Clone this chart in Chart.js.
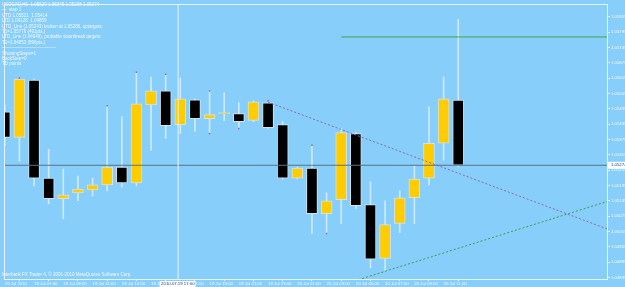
<!DOCTYPE html>
<html>
<head>
<meta charset="utf-8">
<script src="https://cdn.jsdelivr.net/npm/chart.js@4.4.1/dist/chart.umd.min.js"></script>
<style>
  html, body { margin: 0; padding: 0; background: #87cefa; }
</style>
</head>
<body>
<canvas id="myChart" width="625" height="287"></canvas>
<script>
// USDCAD H1 - one bar per hour, bar 0 = 19 Jul 2010 05:00
const opens  = [1.05483,1.05383,1.05607,1.05224,1.05143,1.05166,1.05178,1.05197,1.05267,1.05205,
                1.05510,1.05565,1.05433,1.05530,1.05456,1.05476,1.05476,1.05449,1.05518,1.05433,
                1.05224,1.05263,1.05085,1.05139,1.05398,1.05120,1.04910,1.05046,1.05147,1.05224,
                1.05360,1.05529];
const highs  = [1.05510,1.05615,1.05611,1.05336,1.05259,1.05232,1.05224,1.05507,1.05464,1.05638,
                1.05619,1.05630,1.05615,1.05534,1.05565,1.05557,1.05518,1.05526,1.05526,1.05445,
                1.05267,1.05352,1.05166,1.05418,1.05402,1.05209,1.05135,1.05174,1.05274,1.05503,
                1.05619,1.05845];
const lows   = [1.05352,1.05290,1.05193,1.05123,1.05065,1.05135,1.05154,1.05174,1.05189,1.05193,
                1.05332,1.05379,1.05398,1.05406,1.05398,1.05449,1.05418,1.05445,1.05418,1.05220,
                1.05220,1.05007,1.05007,1.05046,1.05104,1.04872,1.04864,1.05011,1.05046,1.05197,
                1.05294,1.05268];
const closes = [1.05383,1.05611,1.05224,1.05143,1.05158,1.05181,1.05197,1.05267,1.05205,1.05514,
                1.05565,1.05429,1.05534,1.05456,1.05472,1.05480,1.05445,1.05522,1.05421,1.05224,
                1.05263,1.05085,1.05135,1.05402,1.05116,1.04907,1.05042,1.05147,1.05220,1.05360,
                1.05534,1.05274];

// time axis labels, every 2 bars
const tickBars = [0,2,4,6,8,10,12,14,16,18,20,22,24,26,28,30];
const tickLabels = ['19 Jul 2010','19 Jul 07:00','19 Jul 09:00','19 Jul 11:00','19 Jul 13:00','19 Jul 15:00',
                    '19 Jul 17:00','19 Jul 19:00','19 Jul 21:00','19 Jul 23:00','20 Jul 01:00','20 Jul 03:00',
                    '20 Jul 05:00','20 Jul 07:00','20 Jul 09:00','20 Jul 11:00'];

// price axis
const priceTicks = [1.04835,1.04895,1.04955,1.05015,1.05075,1.05135,1.05195,1.05255,1.05315,
                    1.05375,1.05435,1.05495,1.05555,1.05615,1.05675,1.05735,1.05795,1.05855];
const yMin = 1.04829, yMax = 1.05905;
const xMin = -0.054, xMax = 41.17;

// indicator objects
const bid = 1.05274;
const target1 = 1.05776, target1From = 23;
const utdBars = [18, 23], utdPrices = [1.05521, 1.05414];
const ltdBars = [26, 31], ltdPrices = [1.04859, 1.04949];
const tdBars   = [1, 7, 9, 11, 14, 14, 16, 18, 21, 22];
const tdPrices = [1.05615,1.05507,1.05638,1.05630,1.05565,1.05398,1.05418,1.05526,1.05352,1.05007];
const cursorBar = 11.85, cursorLabel = '2010.07.19 17:00';

const infoLines = ['USDCAD,H1  1.05529 1.05845 1.05268 1.05274', '\u2014  step 1', 'UTD 1.05521  1.05414',
                   'LTD 1.04128  1.04859', 'UTD_Line (1.05243) broken at 1.05286, uptargets:',
                   'T1=1.05776 (491pts.)', 'LTD_Line (1.04949), probable downbreak targets:',
                   'T1=1.04053 (896pts.)', '\u2014\u2014\u2014\u2014\u2014\u2014\u2014\u2014\u2014\u2014\u2014\u2014',
                   'ShowingSteps=1', 'BackStep=0', 'TD points'];

const bg = '#87cefa';
const fg = '#f2f9fe';
const fontFam = "'Liberation Sans', Arial, sans-serif";

// extend a trend line (ray) through two anchor points
function ray(bars, prices, from, to) {
  let k = (prices[1] - prices[0]) / (bars[1] - bars[0]);
  return [{x: from, y: prices[0] + (from - bars[0]) * k}, {x: to, y: prices[0] + (to - bars[0]) * k}];
}

const bodies = opens.map((o, i) => ({x: i, y: [o, closes[i]]}));
const wicks = highs.map((h, i) => ({x: i, y: [lows[i], h]}));
const bodyColors = opens.map((o, i) => closes[i] >= o ? '#ffcc00' : '#000000');

const decor = {
  id: 'decor',
  beforeDraw(chart) {
    const c = chart.ctx;
    c.save();
    c.fillStyle = bg;
    c.fillRect(0, 0, chart.width, chart.height);
    c.restore();
  },
  afterDraw(chart) {
    const c = chart.ctx, a = chart.chartArea;
    const xs = chart.scales.x, ys = chart.scales.y;
    c.save();
    c.strokeStyle = '#e6f3fb';
    c.lineWidth = 1;
    c.strokeRect(Math.round(a.left) + 0.5, Math.round(a.top) + 0.5, Math.round(a.right - a.left), Math.round(a.bottom - a.top));

    // info text block
    c.fillStyle = fg;
    c.font = '4.5px ' + fontFam;
    c.textBaseline = 'middle';
    c.textAlign = 'left';
    infoLines.forEach((t, i) => c.fillText(t, 2, 4.7 + i * 5.4));
    c.fillText('Interbank FX Trader 4, \u00a9 2001-2010 MetaQuotes Software Corp.', 2, 275);

    // bid label on price axis
    let by = ys.getPixelForValue(bid);
    c.fillStyle = '#ffffff';
    c.fillRect(a.right + 1, by - 3.5, 20, 7);
    c.fillStyle = '#1c3c78';
    c.font = '4.3px ' + fontFam;
    c.fillText(bid.toFixed(5), a.right + 4, by);

    // cursor time label
    let cx = xs.getPixelForValue(cursorBar);
    c.fillStyle = '#ffffff';
    c.fillRect(cx - 18.5, a.bottom + 2, 36, 7);
    c.fillStyle = '#1c3c78';
    c.textBaseline = 'top';
    c.fillText(cursorLabel, cx - 17, a.bottom + 3);
    c.restore();
  }
};

const ctx = document.getElementById('myChart').getContext('2d');
const myChart = new Chart(ctx, {
  type: 'bar',
  data: {
    datasets: [
      {type: 'line', data: [{x: cursorBar, y: yMin}, {x: cursorBar, y: yMax}], borderColor: '#e8f4fc', borderWidth: 1, pointRadius: 0, order: 0},
      {type: 'line', data: [{x: xMin, y: bid}, {x: xMax, y: bid}], borderColor: '#5b7184', borderWidth: 1, pointRadius: 0, order: 0},
      {type: 'line', data: [{x: target1From, y: target1}, {x: xMax, y: target1}], borderColor: '#3da848', borderWidth: 1, pointRadius: 0, order: 0},
      {type: 'line', data: ray(utdBars, utdPrices, utdBars[0], xMax), borderColor: '#8c66cc', borderWidth: 1, borderDash: [2, 2], pointRadius: 0, order: 0},
      {type: 'line', data: ray(ltdBars, ltdPrices, 20, xMax), borderColor: '#3c9a5a', borderWidth: 1, borderDash: [2, 2], pointRadius: 0, order: 0},
      {type: 'scatter', data: tdBars.map((b, i) => ({x: b, y: tdPrices[i]})), backgroundColor: '#8c60d8', borderWidth: 0, pointStyle: 'rect', pointRadius: 1.1, order: 0},
      {data: bodies, backgroundColor: bodyColors, borderColor: '#d4e2ea', borderWidth: 1, borderSkipped: false, barThickness: 11, grouped: false, order: 1},
      {data: wicks, backgroundColor: '#cfe9fb', borderWidth: 0, barThickness: 1, grouped: false, order: 2}
    ]
  },
  options: {
    responsive: false,
    animation: false,
    layout: {padding: {left: 1, top: 1}},
    plugins: {legend: {display: false}, tooltip: {enabled: false}},
    scales: {
      x: {
        type: 'linear', min: xMin, max: xMax, offset: false,
        grid: {display: true, drawOnChartArea: false, drawTicks: true, tickLength: 2, color: '#e6f3fb'},
        border: {display: false},
        afterBuildTicks: s => { s.ticks = tickBars.map(v => ({value: v})); },
        afterFit: s => { s.height = 8; },
        ticks: {autoSkip: false, maxRotation: 0, minRotation: 0, align: 'start', padding: 0, color: fg,
                font: {family: fontFam, size: 4.3},
                callback: (v) => tickLabels[tickBars.indexOf(v)]}
      },
      y: {
        type: 'linear', position: 'right', min: yMin, max: yMax,
        grid: {display: true, drawOnChartArea: false, drawTicks: true, tickLength: 3, color: '#e6f3fb'},
        border: {display: false},
        afterBuildTicks: s => { s.ticks = priceTicks.map(v => ({value: v})); },
        afterFit: s => { s.width = 18; },
        ticks: {padding: 1, color: fg, font: {family: fontFam, size: 4.3},
                callback: v => v.toFixed(5)}
      }
    }
  },
  plugins: [decor]
});
</script>
</body>
</html>
